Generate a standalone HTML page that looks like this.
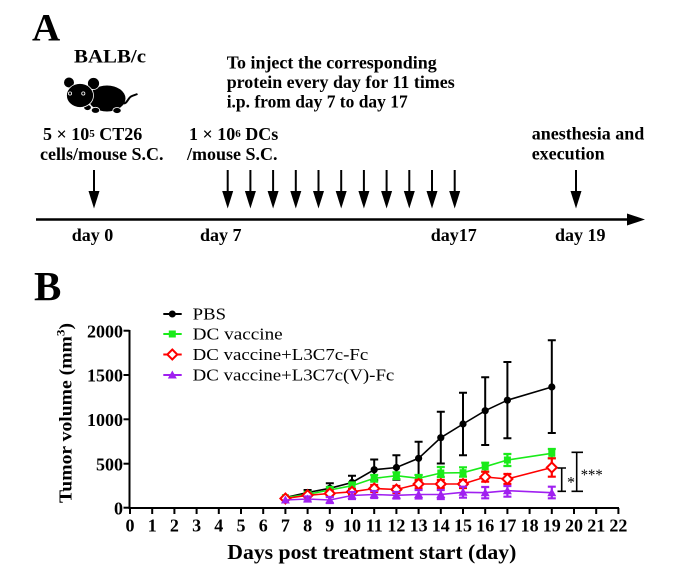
<!DOCTYPE html>
<html><head><meta charset="utf-8"><style>html,body{margin:0;padding:0;background:#fff}svg{display:block}</style></head>
<body>
<svg width="681" height="574" viewBox="0 0 681 574" xmlns="http://www.w3.org/2000/svg" font-family="'Liberation Serif', 'Times New Roman', serif">
<rect width="681" height="574" fill="#fff"/>

<!-- ===== Panel A ===== -->
<text x="32" y="40.5" font-size="39" font-weight="bold">A</text>
<text x="74" y="62.3" font-size="19" font-weight="bold" textLength="72" lengthAdjust="spacingAndGlyphs">BALB/c</text>

<!-- mouse -->
<g>
  <path d="M122,103 C127,105 128,98 131,96.5 C133,95.3 135,95 137.5,94" stroke="#000" stroke-width="2" fill="none"/>
  <ellipse cx="107" cy="98.5" rx="18.5" ry="13" fill="#000"/>
  <ellipse cx="87.5" cy="107.5" rx="3.8" ry="3" fill="#000" stroke="#fff" stroke-width="0.8"/>
  <ellipse cx="95.5" cy="110.3" rx="4.2" ry="3" fill="#000" stroke="#fff" stroke-width="0.8"/>
  <ellipse cx="117" cy="110.5" rx="4.2" ry="3" fill="#000" stroke="#fff" stroke-width="0.8"/>
  <circle cx="93.5" cy="83.5" r="6" fill="#000" stroke="#fff" stroke-width="0.8"/>
  <circle cx="69" cy="82.5" r="5" fill="#000"/>
  <ellipse cx="80" cy="95.5" rx="13.5" ry="12" fill="#000" stroke="#fff" stroke-width="0.8"/>
  <circle cx="70" cy="93.5" r="1.6" fill="none" stroke="#fff" stroke-width="0.8"/>
  <circle cx="83.3" cy="93.5" r="1.6" fill="none" stroke="#fff" stroke-width="0.8"/>
</g>

<g font-size="18" font-weight="bold">
  <text x="226.7" y="68.3" textLength="210" lengthAdjust="spacingAndGlyphs">To inject the corresponding</text>
  <text x="226.7" y="88" textLength="228" lengthAdjust="spacingAndGlyphs">protein every day for 11 times</text>
  <text x="226.7" y="107.5" textLength="181" lengthAdjust="spacingAndGlyphs">i.p. from day 7 to day 17</text>

  <text x="43" y="140">5 × 10<tspan font-size="11" dy="-3">5</tspan><tspan dy="3"> CT26</tspan></text>
  <text x="40" y="160">cells/mouse S.C.</text>
  <text x="189" y="140">1 × 10<tspan font-size="11" dy="-3">6</tspan><tspan dy="3"> DCs</tspan></text>
  <text x="187" y="160">/mouse S.C.</text>
  <text x="531.7" y="139.3">anesthesia and</text>
  <text x="531.7" y="159.3">execution</text>

  <text x="71.7" y="241">day 0</text>
  <text x="200" y="241">day 7</text>
  <text x="430.7" y="241">day17</text>
  <text x="555" y="241">day 19</text>
</g>

<!-- arrows -->
<g stroke="#000" stroke-width="2">
  <line x1="94" y1="170" x2="94" y2="194"/>
  <line x1="227.7" y1="170" x2="227.7" y2="194"/>
  <line x1="250.4" y1="170" x2="250.4" y2="194"/>
  <line x1="273.1" y1="170" x2="273.1" y2="194"/>
  <line x1="295.8" y1="170" x2="295.8" y2="194"/>
  <line x1="318.5" y1="170" x2="318.5" y2="194"/>
  <line x1="341.2" y1="170" x2="341.2" y2="194"/>
  <line x1="363.9" y1="170" x2="363.9" y2="194"/>
  <line x1="386.6" y1="170" x2="386.6" y2="194"/>
  <line x1="409.3" y1="170" x2="409.3" y2="194"/>
  <line x1="432" y1="170" x2="432" y2="194"/>
  <line x1="454.7" y1="170" x2="454.7" y2="194"/>
  <line x1="576" y1="170" x2="576" y2="194"/>
</g>
<g fill="#000">
  <polygon points="88.5,191 99.5,191 94,208.5"/>
  <polygon points="222.2,191 233.2,191 227.7,208.5"/>
  <polygon points="244.9,191 255.9,191 250.4,208.5"/>
  <polygon points="267.6,191 278.6,191 273.1,208.5"/>
  <polygon points="290.3,191 301.3,191 295.8,208.5"/>
  <polygon points="313,191 324,191 318.5,208.5"/>
  <polygon points="335.7,191 346.7,191 341.2,208.5"/>
  <polygon points="358.4,191 369.4,191 363.9,208.5"/>
  <polygon points="381.1,191 392.1,191 386.6,208.5"/>
  <polygon points="403.8,191 414.8,191 409.3,208.5"/>
  <polygon points="426.5,191 437.5,191 432,208.5"/>
  <polygon points="449.2,191 460.2,191 454.7,208.5"/>
  <polygon points="570.5,191 581.5,191 576,208.5"/>
</g>
<line x1="36" y1="219.5" x2="630" y2="219.5" stroke="#000" stroke-width="2.5"/>
<polygon points="627,213.5 645,219.5 627,225.5" fill="#000"/>

<!-- ===== Panel B ===== -->
<text x="34" y="300" font-size="41" font-weight="bold">B</text>

<!-- axes -->
<g stroke="#000" stroke-width="2" fill="none">
  <line x1="129.5" y1="330" x2="129.5" y2="509"/>
  <line x1="128.5" y1="508" x2="619" y2="508"/>
  <line x1="123.5" y1="330.7" x2="129.5" y2="330.7"/>
  <line x1="123.5" y1="375" x2="129.5" y2="375"/>
  <line x1="123.5" y1="419.3" x2="129.5" y2="419.3"/>
  <line x1="123.5" y1="463.7" x2="129.5" y2="463.7"/>
  <line x1="123.5" y1="507.7" x2="129.5" y2="507.7"/>
  <path d="M130,508v6 M152.2,508v6 M174.4,508v6 M196.6,508v6 M218.8,508v6 M241,508v6 M263.2,508v6 M285.4,508v6 M307.6,508v6 M329.8,508v6 M352,508v6 M374.2,508v6 M396.4,508v6 M418.6,508v6 M440.8,508v6 M463,508v6 M485.2,508v6 M507.4,508v6 M529.6,508v6 M551.8,508v6 M574,508v6 M596.2,508v6 M618.4,508v6"/>
</g>

<g font-size="18" font-weight="bold" text-anchor="end">
  <text x="123" y="337.3">2000</text>
  <text x="123" y="381.6">1500</text>
  <text x="123" y="425.9">1000</text>
  <text x="123" y="470.3">500</text>
  <text x="123" y="514.3">0</text>
</g>
<g font-size="18" font-weight="bold" text-anchor="middle">
  <text x="130" y="531.7">0</text>
  <text x="152.2" y="531.7">1</text>
  <text x="174.4" y="531.7">2</text>
  <text x="196.6" y="531.7">3</text>
  <text x="218.8" y="531.7">4</text>
  <text x="241" y="531.7">5</text>
  <text x="263.2" y="531.7">6</text>
  <text x="285.4" y="531.7">7</text>
  <text x="307.6" y="531.7">8</text>
  <text x="329.8" y="531.7">9</text>
  <text x="352" y="531.7">10</text>
  <text x="374.2" y="531.7">11</text>
  <text x="396.4" y="531.7">12</text>
  <text x="418.6" y="531.7">13</text>
  <text x="440.8" y="531.7">14</text>
  <text x="463" y="531.7">15</text>
  <text x="485.2" y="531.7">16</text>
  <text x="507.4" y="531.7">17</text>
  <text x="529.6" y="531.7">18</text>
  <text x="551.8" y="531.7">19</text>
  <text x="574" y="531.7">20</text>
  <text x="596.2" y="531.7">21</text>
  <text x="618.4" y="531.7">22</text>
</g>

<text x="227.3" y="559" font-size="21" font-weight="bold" textLength="289" lengthAdjust="spacingAndGlyphs">Days post treatment start (day)</text>
<text transform="translate(71.5,503) rotate(-90)" font-size="18" font-weight="bold" textLength="180" lengthAdjust="spacingAndGlyphs">Tumor volume (mm<tspan font-size="12" dy="-7">3</tspan><tspan dy="7">)</tspan></text>

<!-- legend -->
<g stroke-width="2">
  <line x1="163.3" y1="314" x2="181.7" y2="314" stroke="#000"/>
  <circle cx="172.3" cy="314" r="3.5" fill="#000"/>
  <line x1="163.3" y1="334" x2="181.7" y2="334" stroke="#1aeb1a"/>
  <rect x="168.8" y="330.5" width="7" height="7" fill="#1aeb1a"/>
  <line x1="163.3" y1="354.5" x2="181.7" y2="354.5" stroke="#ff0000"/>
  <polygon points="172.3,349.5 177.3,354.5 172.3,359.5 167.3,354.5" fill="#fff" stroke="#ff0000"/>
  <line x1="163.3" y1="375" x2="181.7" y2="375" stroke="#a020f0"/>
  <polygon points="172.3,370.5 176.8,378.5 167.8,378.5" fill="#a020f0"/>
</g>
<g font-size="17">
  <text x="192.7" y="319.5" textLength="33.3" lengthAdjust="spacingAndGlyphs">PBS</text>
  <text x="192.7" y="339.5" textLength="90" lengthAdjust="spacingAndGlyphs">DC vaccine</text>
  <text x="192.7" y="360" textLength="175.6" lengthAdjust="spacingAndGlyphs">DC vaccine+L3C7c-Fc</text>
  <text x="192.7" y="380.5" textLength="201.6" lengthAdjust="spacingAndGlyphs">DC vaccine+L3C7c(V)-Fc</text>
</g>

<!-- PBS (black) -->
<g stroke="#000" stroke-width="2" fill="none">
  <path d="M307.6,490v5 M303.6,490h8 M325.8,483.3h8 M329.8,483.3v10 M325.8,493.3h8 M348,475.7h8 M352,475.7v13.6 M348,489.3h8 M370.2,459.5h8 M374.2,459.5v20.5 M370.2,480h8 M392.4,455.3h8 M396.4,455.3v24.4 M392.4,479.7h8 M414.6,441.7h8 M418.6,441.7v33.3 M414.6,475h8 M436.8,411.7h8 M440.8,411.7v51.8 M436.8,463.5h8 M459,392.7h8 M463,392.7v62.6 M459,455.3h8 M481.2,377.3h8 M485.2,377.3v67.7 M481.2,445h8 M503.4,362h8 M507.4,362v76.3 M503.4,438.3h8 M547.8,340.3h8 M551.8,340.3v92.7 M547.8,433h8"/>
  <polyline stroke-width="1.6" points="285.4,497.5 307.6,492.5 329.8,488.3 352,482.5 374.2,469.7 396.4,467.5 418.6,458.3 440.8,437.7 463,424 485.2,410.7 507.4,400.2 551.8,387"/>
</g>
<g fill="#000">
  <circle cx="285.4" cy="497.5" r="3.6"/><circle cx="307.6" cy="492.5" r="3.6"/><circle cx="329.8" cy="488.3" r="3.6"/><circle cx="352" cy="482.5" r="3.6"/><circle cx="374.2" cy="469.7" r="3.6"/><circle cx="396.4" cy="467.5" r="3.6"/><circle cx="418.6" cy="458.3" r="3.6"/><circle cx="440.8" cy="437.7" r="3.6"/><circle cx="463" cy="424" r="3.6"/><circle cx="485.2" cy="410.7" r="3.6"/><circle cx="507.4" cy="400.2" r="3.6"/><circle cx="551.8" cy="387" r="3.6"/>
</g>

<!-- DC vaccine (green) -->
<g stroke="#1aeb1a" stroke-width="2.2" fill="none">
  <path d="M303.6,492h8 M307.6,492v4.5 M303.6,496.5h8 M325.8,487h8 M329.8,487v6 M325.8,493h8 M348,482.5h8 M352,482.5v6.5 M348,489h8 M370.2,475h8 M374.2,475v6.7 M370.2,481.7h8 M392.4,472.3h8 M396.4,472.3v6.7 M392.4,479h8 M414.6,475h8 M418.6,475v6.7 M414.6,481.7h8 M436.8,467h8 M440.8,467v10 M436.8,477h8 M459,467.3h8 M463,467.3v9.4 M459,476.7h8 M481.2,462.7h8 M485.2,462.7v9 M481.2,471.7h8 M503.4,454h8 M507.4,454v12 M503.4,466h8 M547.8,449h8 M551.8,449v9.3 M547.8,458.3h8"/>
  <polyline stroke-width="1.6" points="285.4,497.7 307.6,494.3 329.8,490 352,485.7 374.2,478.3 396.4,475.7 418.6,478.3 440.8,473 463,472.7 485.2,466.7 507.4,460 551.8,453.3"/>
</g>
<g fill="#1aeb1a">
  <rect x="281.9" y="494.2" width="7" height="7"/><rect x="304.1" y="490.8" width="7" height="7"/><rect x="326.3" y="486.5" width="7" height="7"/><rect x="348.5" y="482.2" width="7" height="7"/><rect x="370.7" y="474.8" width="7" height="7"/><rect x="392.9" y="472.2" width="7" height="7"/><rect x="415.1" y="474.8" width="7" height="7"/><rect x="437.3" y="469.5" width="7" height="7"/><rect x="459.5" y="469.2" width="7" height="7"/><rect x="481.7" y="463.2" width="7" height="7"/><rect x="503.9" y="456.5" width="7" height="7"/><rect x="548.3" y="449.8" width="7" height="7"/>
</g>

<!-- DC vaccine+L3C7c-Fc (red) -->
<g stroke="#ff0000" stroke-width="2.2" fill="none">
  <path d="M325.8,490.5h8 M329.8,490.5v6 M325.8,496.5h8 M348,489h8 M352,489v5.5 M348,494.5h8 M370.2,485h8 M374.2,485v7 M370.2,492h8 M392.4,486h8 M396.4,486v7 M392.4,493h8 M414.6,480h8 M418.6,480v8.3 M414.6,488.3h8 M436.8,480h8 M440.8,480v8 M436.8,488h8 M459,480h8 M463,480v8 M459,488h8 M481.2,471.7h8 M485.2,471.7v10 M481.2,481.7h8 M503.4,474h8 M507.4,474v10 M503.4,484h8 M547.8,458.3h8 M551.8,458.3v18.4 M547.8,476.7h8"/>
  <polyline stroke-width="1.6" points="285.4,498.5 307.6,495.3 329.8,493.5 352,491.8 374.2,488.5 396.4,489.5 418.6,484 440.8,484 463,484 485.2,477 507.4,479 551.8,467.5"/>
</g>
<g fill="#fff" stroke="#ff0000" stroke-width="2">
  <polygon points="285.4,493.5 290.4,498.5 285.4,503.5 280.4,498.5"/>
  <polygon points="307.6,490.3 312.6,495.3 307.6,500.3 302.6,495.3"/>
  <polygon points="329.8,488.5 334.8,493.5 329.8,498.5 324.8,493.5"/>
  <polygon points="352,486.8 357,491.8 352,496.8 347,491.8"/>
  <polygon points="374.2,483.5 379.2,488.5 374.2,493.5 369.2,488.5"/>
  <polygon points="396.4,484.5 401.4,489.5 396.4,494.5 391.4,489.5"/>
  <polygon points="418.6,479 423.6,484 418.6,489 413.6,484"/>
  <polygon points="440.8,479 445.8,484 440.8,489 435.8,484"/>
  <polygon points="463,479 468,484 463,489 458,484"/>
  <polygon points="485.2,472 490.2,477 485.2,482 480.2,477"/>
  <polygon points="507.4,474 512.4,479 507.4,484 502.4,479"/>
  <polygon points="551.8,462.5 556.8,467.5 551.8,472.5 546.8,467.5"/>
</g>

<!-- DC vaccine+L3C7c(V)-Fc (purple) -->
<g stroke="#a020f0" stroke-width="2.2" fill="none">
  <path d="M303.6,496.5h8 M307.6,496.5v5 M303.6,501.5h8 M325.8,497h8 M329.8,497v6 M325.8,503h8 M348,492h8 M352,492v7 M348,499h8 M370.2,491h8 M374.2,491v7 M370.2,498h8 M392.4,492h8 M396.4,492v6.5 M392.4,498.5h8 M414.6,490h8 M418.6,490v8.5 M414.6,498.5h8 M436.8,490h8 M440.8,490v9 M436.8,499h8 M459,486.7h8 M463,486.7v11 M459,497.7h8 M481.2,487h8 M485.2,487v11.3 M481.2,498.3h8 M503.4,486h8 M507.4,486v10.7 M503.4,496.7h8 M547.8,486.7h8 M551.8,486.7v11.6 M547.8,498.3h8"/>
  <polyline stroke-width="1.6" points="285.4,500 307.6,499 329.8,500 352,495.5 374.2,494.5 396.4,495.3 418.6,494.5 440.8,494.5 463,492.3 485.2,492.7 507.4,490.7 551.8,492.7"/>
</g>
<g fill="#a020f0">
  <polygon points="285.4,495.5 289.9,503.5 280.9,503.5"/>
  <polygon points="307.6,494.5 312.1,502.5 303.1,502.5"/>
  <polygon points="329.8,495.5 334.3,503.5 325.3,503.5"/>
  <polygon points="352,491 356.5,499 347.5,499"/>
  <polygon points="374.2,490 378.7,498 369.7,498"/>
  <polygon points="396.4,490.8 400.9,498.8 391.9,498.8"/>
  <polygon points="418.6,490 423.1,498 414.1,498"/>
  <polygon points="440.8,490 445.3,498 436.3,498"/>
  <polygon points="463,487.8 467.5,495.8 458.5,495.8"/>
  <polygon points="485.2,488.2 489.7,496.2 480.7,496.2"/>
  <polygon points="507.4,486.2 511.9,494.2 502.9,494.2"/>
  <polygon points="551.8,488.2 556.3,496.2 547.3,496.2"/>
</g>

<!-- significance -->
<g stroke="#000" stroke-width="1.6" fill="none">
  <path d="M557.5,468h8.5 M561.7,468v23.3 M557.5,491.3h8.5"/>
  <path d="M571.5,452.3h11.5 M576.7,452.3v39 M571.5,491.3h11.5"/>
</g>
<text x="567" y="487.5" font-size="16">*</text>
<text x="580.7" y="480.2" font-size="16" textLength="22" lengthAdjust="spacingAndGlyphs">***</text>
</svg>
</body></html>
